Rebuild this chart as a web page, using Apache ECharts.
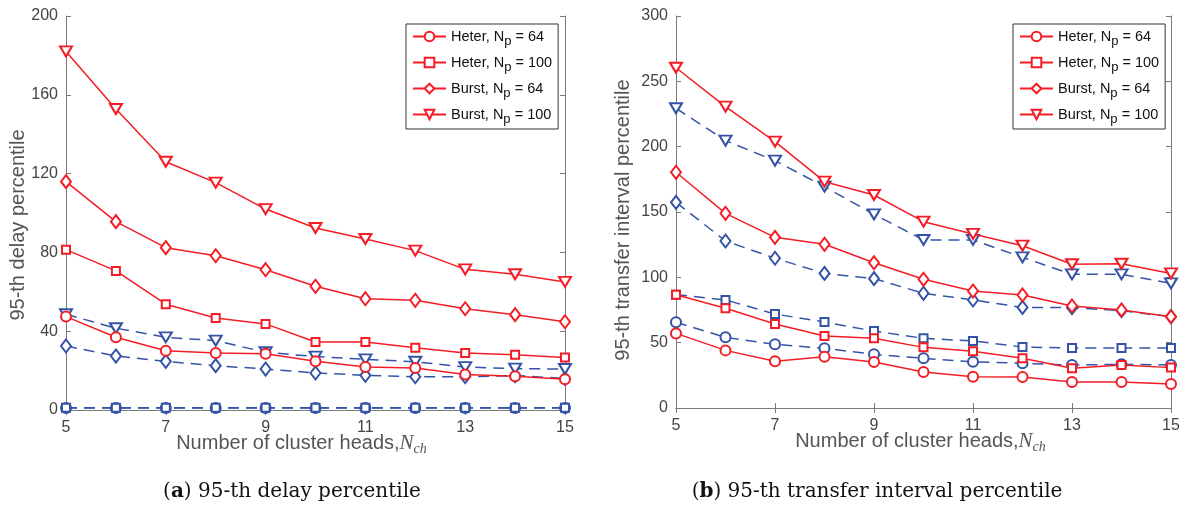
<!DOCTYPE html>
<html>
<head>
<meta charset="utf-8">
<script src="https://cdn.jsdelivr.net/npm/echarts@6/dist/echarts.min.js"></script>
<style>
html,body{margin:0;padding:0;background:#fff;}
#chart{width:1186px;height:508px;}
</style>
</head>
<body>
<div id="chart"></div>
<script>
// ---- data ----
const xCats = ['5','6','7','8','9','10','11','12','13','14','15'];
const legendNames = ['Heter, N_p = 64','Heter, N_p = 100','Burst, N_p = 64','Burst, N_p = 100'];

// (a) 95-th delay percentile
const aRedHeter64  = [47.4,36.9,30.1,28.9,28.6,24.7,21.8,21.3,18.0,17.1,15.6];
const aRedHeter100 = [81.4,70.6,53.7,46.7,43.7,34.5,34.5,31.6,28.9,28.1,26.7];
const aRedBurst64  = [115.9,95.6,82.4,78.3,71.2,62.8,56.5,55.7,51.4,48.4,44.8];
const aRedBurst100 = [182,152.8,126,115.4,102,92.4,86.8,80.9,71.4,68.9,65];
const aBlueHeter64  = [1,1,1,1,1,1,1,1,1,1,1];
const aBlueHeter100 = [1.2,1.2,1.2,1.2,1.2,1.2,1.2,1.2,1.2,1.2,1.2];
const aBlueBurst64  = [32.5,27.4,24.7,22.5,20.8,18.8,17.6,16.9,16.9,17.5,16];
const aBlueBurst100 = [48.6,41.5,36.9,35.2,29.3,27.1,25.7,24.5,21.8,21,20.8];

// (b) 95-th transfer interval percentile
const bRedHeter64  = [57.1,44.1,35.7,39.3,35.2,27.6,24,23.7,19.9,19.9,18.4];
const bRedHeter100 = [86.7,76.3,64.3,55.1,53.3,46.4,43.4,38,30.4,32.9,30.9];
const bRedBurst64  = [180.4,149,130.6,125.3,111.2,98.5,89.5,86.5,78.1,75,69.9];
const bRedBurst100 = [260.4,230.6,203.8,173.2,163,142.6,133.2,124.2,110,110.4,103];
const bBlueHeter64  = [65.6,54.1,48.7,45.7,41.1,38,35.4,34.2,32.9,33.4,32.9];
const bBlueHeter100 = [86.7,82.7,71.9,65.8,58.9,53.3,51.3,46.7,45.9,45.9,45.9];
const bBlueBurst64  = [157.4,127.8,114.6,103,99,87.8,82.7,77,76.8,74.5,69.9];
const bBlueBurst100 = [229.4,204.6,189.3,169.4,148.2,128.6,128.6,115.3,102.3,102.3,95.4];

const aYMax = 200, aYStep = 40;
const bYMax = 300, bYStep = 50;

// ---- styles ----
const RED = '#f41d25';
const BLUE = '#3553a6';
const AX = '#7a7a7a';
const TXT = '#444444';
const SANS = 'Liberation Sans, Arial, sans-serif';
const SERIF_CAP = 'DejaVu Serif, serif';

const symbols = [
  {symbol:'emptyCircle', size:10, rot:0},
  {symbol:'emptyRect', size:8, rot:0},
  {symbol:'emptyDiamond', size:[10,13], rot:0},
  {symbol:'emptyTriangle', size:[12,10], rot:180}
];

function mkSeries(name, data, idx, color, dashed, gi){
  const s = symbols[idx];
  return {
    name: name, type:'line', data: data,
    xAxisIndex: gi*2, yAxisIndex: gi*2,
    symbol: s.symbol, symbolSize: s.size, symbolRotate: s.rot,
    showSymbol:true, animation:false,
    lineStyle:{color: color, width:1.5, type: dashed ? [11,7] : 'solid'},
    itemStyle:{color: color, borderWidth:1.5},
    z: dashed ? 2 : 3
  };
}

const nameRich = {
  it:{fontStyle:'italic', fontFamily:'Liberation Serif, serif', fontSize:21, color:'#555'},
  isub:{fontStyle:'italic', fontFamily:'Liberation Serif, serif', fontSize:14, color:'#555', padding:[11,0,0,0]}
};

function xAxes(gi){
  return [
    {gridIndex:gi, type:'category', data:xCats, boundaryGap:false, position:'bottom',
     axisLine:{lineStyle:{color:AX}}, axisTick:{inside:true, interval:1, length:5, lineStyle:{color:AX}},
     axisLabel:{interval:1, color:TXT, fontSize:16, fontFamily:SANS, margin:10},
     splitLine:{show:false},
     name:'Number of cluster heads,{it|N}{isub|ch}', nameLocation:'middle', nameGap:21,
     nameMoveOverlap:false,
     nameTextStyle:{color:'#555', fontSize:20, fontFamily:SANS, rich:nameRich,
       padding: gi===0 ? [0,28,0,0] : [0,6,0,0]}},
    {gridIndex:gi, type:'category', data:xCats, boundaryGap:false, position:'top',
     axisLine:{lineStyle:{color:AX}}, axisTick:{inside:true, interval:1, length:5, lineStyle:{color:AX}},
     axisLabel:{show:false}, splitLine:{show:false}}
  ];
}
function yAxes(gi, max, step, name){
  return [
    {gridIndex:gi, type:'value', min:0, max:max, interval:step, position:'left',
     axisLine:{show:true, lineStyle:{color:AX}}, axisTick:{show:true, inside:true, length:5, lineStyle:{color:AX}},
     axisLabel:{color:TXT, fontSize:16, fontFamily:SANS, margin:8},
     splitLine:{show:false},
     name:name, nameLocation:'middle', nameGap: gi===0 ? 38 : 43,
     nameMoveOverlap:false,
     nameTextStyle:{color:'#555', fontSize:20, fontFamily:SANS,
       padding: gi===0 ? [0,24,0,0] : [0,16,0,0]}},
    {gridIndex:gi, type:'value', min:0, max:max, interval:step, position:'right',
     axisLine:{show:true, lineStyle:{color:AX}}, axisTick:{show:true, inside:true, length:5, lineStyle:{color:AX}},
     axisLabel:{show:false}, splitLine:{show:false}}
  ];
}

const legendRich = {
  sub:{fontSize:13, color:'#111', fontFamily:SANS, padding:[10,0,0,0]}
};
function legendFmt(n){ return n.replace('N_p', 'N{sub|p}'); }
function mkLegend(gi, left){
  return {
    data: legendNames, left:left, top:24, orient:'vertical',
    itemWidth:33, itemHeight:12, itemGap:7,
    padding:[5,6,3,6],
    borderColor:'#333', borderWidth:1, backgroundColor:'#fff',
    formatter: legendFmt,
    textStyle:{color:'#111', fontSize:14.5, fontFamily:SANS, rich:legendRich}
  };
}

const series = [];
const aRed = [aRedHeter64,aRedHeter100,aRedBurst64,aRedBurst100];
const aBlue = [aBlueHeter64,aBlueHeter100,aBlueBurst64,aBlueBurst100];
const bRed = [bRedHeter64,bRedHeter100,bRedBurst64,bRedBurst100];
const bBlue = [bBlueHeter64,bBlueHeter100,bBlueBurst64,bBlueBurst100];
for (let i=0;i<4;i++){ series.push(mkSeries('a-blue-'+i, aBlue[i], i, BLUE, true, 0)); }
for (let i=0;i<4;i++){ series.push(mkSeries(legendNames[i], aRed[i], i, RED, false, 0)); }
for (let i=0;i<4;i++){ series.push(mkSeries('b-blue-'+i, bBlue[i], i, BLUE, true, 1)); }
for (let i=0;i<4;i++){ series.push(mkSeries(legendNames[i], bRed[i], i, RED, false, 1)); }

const capStyle = (t) => ({text:t, fill:'#111', fontSize:20, fontFamily:SERIF_CAP,
  align:'center', verticalAlign:'middle',
  rich:{b:{fontWeight:'bold', fontSize:20, fontFamily:SERIF_CAP, fill:'#111'}}});

const chart = echarts.init(document.getElementById('chart'), null, {renderer:'canvas'});
chart.setOption({
  animation:false,
  backgroundColor:'#fff',
  grid:[
    {left:66, top:16, width:499, height:394},
    {left:676, top:16, width:495, height:392}
  ],
  xAxis:[...xAxes(0), ...xAxes(1)],
  yAxis:[...yAxes(0,aYMax,aYStep,'95-th delay percentile'), ...yAxes(1,bYMax,bYStep,'95-th transfer interval percentile')],
  legend:[mkLegend(0,406), mkLegend(1,1013)],
  series: series,
  graphic:[
    {type:'text', x:292, y:492, style:capStyle('({b|a}) 95-th delay percentile')},
    {type:'text', x:877, y:492, style:capStyle('({b|b}) 95-th transfer interval percentile')}
  ]
});
</script>
</body>
</html>
